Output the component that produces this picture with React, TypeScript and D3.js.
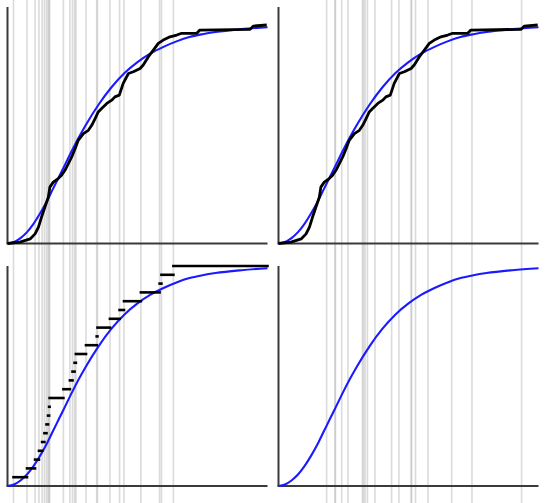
import React from "react";
import * as d3 from "d3";

const W = 549;
const H = 503;

// Sample shown as rug lines in the left column (also the step function below it)
const leftSample = [
  0.23, 0.75, 1.06, 1.21, 1.33, 1.42, 1.5, 1.56, 1.6, 1.62, 2.15, 2.4, 2.5,
  2.58, 2.63, 3.02, 3.43, 3.46, 3.94, 4.31, 4.48, 5.13, 5.85, 5.92, 6.38,
];

// Sample shown as rug lines in the right column
const rightSample = [
  1.85, 2.17, 2.19, 2.43, 2.67, 3.23, 3.27, 3.33, 3.42, 3.71, 4.35, 4.63, 5.1,
  5.12, 5.27, 5.75, 6.66, 7.44, 9.35,
];

// Empirical CDF of the full data
const ecdfX = [
  0, 0.48, 0.87, 1.06, 1.19, 1.31, 1.44, 1.57, 1.63, 1.76, 1.95, 2.08, 2.21,
  2.34, 2.47, 2.6, 2.72, 2.92, 3.11, 3.24, 3.37, 3.49, 3.62, 3.82, 4.01, 4.13,
  4.3, 4.45, 4.65, 4.84, 5.1, 5.22, 5.42, 5.61, 5.8, 5.99, 6.25, 6.51, 6.7,
  7.28, 7.4, 9.33, 9.45, 9.97,
];
const ecdfY = [
  0, 0.006, 0.021, 0.044, 0.075, 0.121, 0.167, 0.212, 0.258, 0.281, 0.297,
  0.312, 0.335, 0.366, 0.396, 0.434, 0.472, 0.503, 0.518, 0.541, 0.572, 0.602,
  0.618, 0.641, 0.656, 0.671, 0.679, 0.733, 0.778, 0.786, 0.801, 0.817, 0.855,
  0.885, 0.916, 0.931, 0.946, 0.954, 0.962, 0.962, 0.977, 0.98, 0.995, 1.0,
];

// Fitted theoretical CDF
const cdfX = [
  0, 0.25, 0.5, 0.75, 1.0, 1.25, 1.5, 1.75, 2.0, 2.25, 2.5, 2.75, 3.0, 3.5,
  4.0, 4.5, 5.0, 5.5, 6.0, 6.5, 7.0, 7.5, 8.0, 9.0, 10,
];
const cdfY = [
  0, 0.007, 0.025, 0.052, 0.09, 0.137, 0.19, 0.25, 0.31, 0.37, 0.43, 0.487,
  0.54, 0.635, 0.715, 0.78, 0.83, 0.87, 0.9, 0.925, 0.945, 0.958, 0.968, 0.981,
  0.99,
];

const xDomain: [number, number] = [0, 10];

type Panel = {
  key: string;
  x0: number;
  x1: number;
  yBottom: number;
  yOne: number;
  axisTop: number;
  cellTop: number;
  cellBottom: number;
  sample: number[];
  showEcdf: boolean;
  showSteps: boolean;
};

const panels: Panel[] = [
  { key: "tl", x0: 7.5, x1: 267.5, yBottom: 243.5, yOne: 25, axisTop: 7, cellTop: 0, cellBottom: 251, sample: leftSample, showEcdf: true, showSteps: false },
  { key: "tr", x0: 278.5, x1: 538.5, yBottom: 243.5, yOne: 25, axisTop: 7, cellTop: 0, cellBottom: 251, sample: rightSample, showEcdf: true, showSteps: false },
  { key: "bl", x0: 7.5, x1: 267.5, yBottom: 486, yOne: 266, axisTop: 266, cellTop: 251, cellBottom: 503, sample: leftSample, showEcdf: false, showSteps: true },
  { key: "br", x0: 278.5, x1: 538.5, yBottom: 486, yOne: 266, axisTop: 266, cellTop: 251, cellBottom: 503, sample: rightSample, showEcdf: false, showSteps: false },
];

function PanelView({ p }: { p: Panel }) {
  const x = d3.scaleLinear().domain(xDomain).range([p.x0, p.x1]);
  const y = d3.scaleLinear().domain([0, 1]).range([p.yBottom, p.yOne]);

  const cdfPath = d3
    .line<[number, number]>()
    .x((d) => x(d[0]))
    .y((d) => y(d[1]))
    .curve(d3.curveMonotoneX)(cdfX.map((v, i) => [v, cdfY[i]] as [number, number]));
  const ecdfPath = d3
    .line<[number, number]>()
    .x((d) => x(d[0]))
    .y((d) => y(d[1]))(ecdfX.map((v, i) => [v, ecdfY[i]] as [number, number]));

  const sorted = [...p.sample].sort((a, b) => a - b);
  const n = sorted.length;

  return (
    <g>
      {p.sample.map((v, i) => (
        <line
          key={`r${i}`}
          x1={x(v)}
          x2={x(v)}
          y1={p.cellTop}
          y2={p.cellBottom}
          stroke="#b8b8b8"
          strokeOpacity={0.5}
          strokeWidth={1.6}
        />
      ))}
      <line x1={p.x0} x2={p.x0} y1={p.axisTop} y2={p.yBottom} stroke="#3a3a3a" strokeWidth={2} />
      <line x1={p.x0 - 1} x2={p.x1} y1={p.yBottom} y2={p.yBottom} stroke="#3a3a3a" strokeWidth={2} />
      <path d={cdfPath ?? ""} fill="none" stroke="#1a1aff" strokeWidth={2.1} />
      {p.showEcdf && (
        <path d={ecdfPath ?? ""} fill="none" stroke="#000" strokeWidth={2.8} strokeLinejoin="round" />
      )}
      {p.showSteps &&
        sorted.map((v, i) => {
          const next = i + 1 < n ? sorted[i + 1] : xDomain[1];
          return (
            <line
              key={`s${i}`}
              x1={x(v)}
              x2={x(next)}
              y1={y((i + 1) / n)}
              y2={y((i + 1) / n)}
              stroke="#000"
              strokeWidth={2.6}
              strokeLinecap="square"
            />
          );
        })}
    </g>
  );
}

export default function App() {
  return (
    <svg
      width={W}
      height={H}
      viewBox={`0 0 ${W} ${H}`}
      style={{ position: "absolute", left: 0, top: 0, background: "#fff" }}
    >
      <rect width={W} height={H} fill="#fff" />
      {panels.map((p) => (
        <PanelView key={p.key} p={p} />
      ))}
    </svg>
  );
}
